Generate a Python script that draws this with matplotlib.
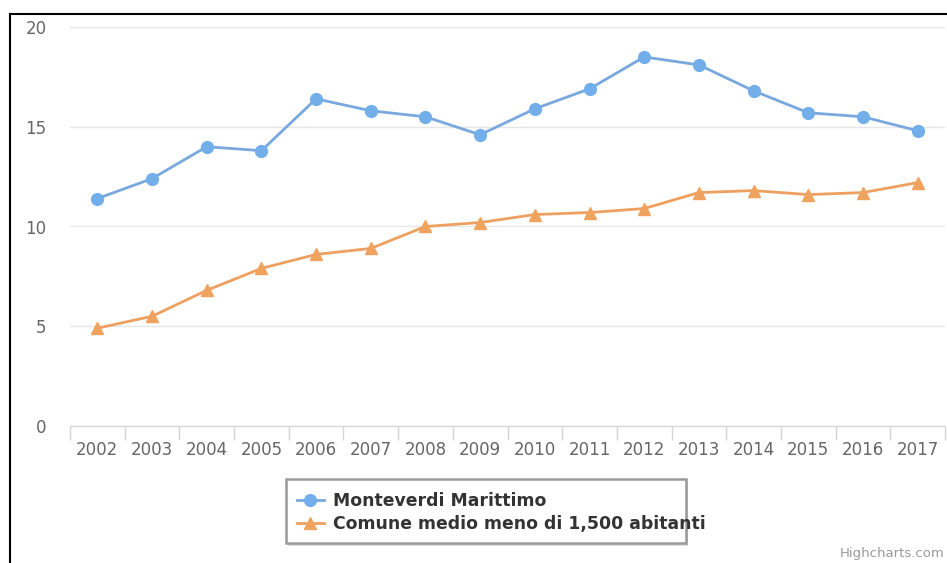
import matplotlib
matplotlib.use("Agg")
import matplotlib.pyplot as plt
from matplotlib.lines import Line2D
from matplotlib.patches import Rectangle
import numpy as np

years = ['2002', '2003', '2004', '2005', '2006', '2007', '2008', '2009',
         '2010', '2011', '2012', '2013', '2014', '2015', '2016', '2017']
monteverdi = [11.4, 12.4, 14.0, 13.8, 16.4, 15.8, 15.5, 14.6,
              15.9, 16.9, 18.5, 18.1, 16.8, 15.7, 15.5, 14.8]
comune_medio = [4.9, 5.5, 6.8, 7.9, 8.6, 8.9, 10.0, 10.2,
                10.6, 10.7, 10.9, 11.7, 11.8, 11.6, 11.7, 12.2]
yticks = [0, 5, 10, 15, 20]

W, H = 947, 563
fig = plt.figure(figsize=(W / 100, H / 100), dpi=100)
ax = fig.add_axes([70 / W, 1 - 426 / H, 875 / W, 399 / H])

x = np.arange(len(years))
ax.plot(x, monteverdi, color='#78a8de', lw=2, marker='o', ms=8.5,
        mfc='#72aeea', mec='#72aeea', label='Monteverdi Marittimo', zorder=3)
ax.plot(x, comune_medio, color='#eda060', lw=2, marker='^', ms=8.5,
        mfc='#f0a35e', mec='#f0a35e',
        label='Comune medio meno di 1,500 abitanti', zorder=3)

ax.set_xlim(-0.5, len(years) - 0.5)
ax.set_ylim(0, 20)
ax.set_yticks(yticks)
ax.set_yticklabels([str(v) for v in yticks])
ax.yaxis.grid(True, color='#e6e6e6', lw=1)
ax.set_axisbelow(True)
ax.tick_params(axis='y', length=0, pad=17, labelsize=12, labelcolor='#666666')

# category labels centred, ticks on category boundaries
ax.set_xticks(x)
ax.set_xticklabels(years)
ax.set_xticks(np.arange(len(years) + 1) - 0.5, minor=True)
ax.tick_params(axis='x', which='major', length=0, pad=11, labelsize=12,
               labelcolor='#666666')
ax.tick_params(axis='x', which='minor', length=10, color='#d4d4d4', width=1)

for s in ['top', 'right', 'left']:
    ax.spines[s].set_visible(False)
ax.spines['bottom'].set_color('#d4d4d4')

# legend box (text runs past the right edge, as in the screenshot)
fig.add_artist(Rectangle((288 / W, 1 - 546 / H), 400 / W, 64 / H,
                         transform=fig.transFigure, fc='#dddddd', ec='none'))
fig.add_artist(Rectangle((286 / W, 1 - 543 / H), 400 / W, 64 / H,
                         transform=fig.transFigure, fc='white', ec='#999999', lw=1.8))
leg = fig.legend(loc='upper left', bbox_to_anchor=(297 / W, 1 - 492 / H),
                 frameon=False, borderaxespad=0, borderpad=0,
                 handlelength=1.55, handletextpad=0.55, labelspacing=0.3,
                 prop={'weight': 'bold', 'size': 12.4})
for t in leg.get_texts():
    t.set_color('#333333')

fig.text(944 / W, 1 - 553 / H, 'Highcharts.com', ha='right', va='center',
         fontsize=9.5, color='#999999')

# black frame from the screenshot
fig.add_artist(Line2D([10 / W, 1], [1 - 14 / H, 1 - 14 / H], color='black', lw=1.5))
fig.add_artist(Line2D([10 / W, 10 / W], [0, 1 - 14 / H], color='black', lw=1.5))

fig.savefig('out.png', dpi=100)
